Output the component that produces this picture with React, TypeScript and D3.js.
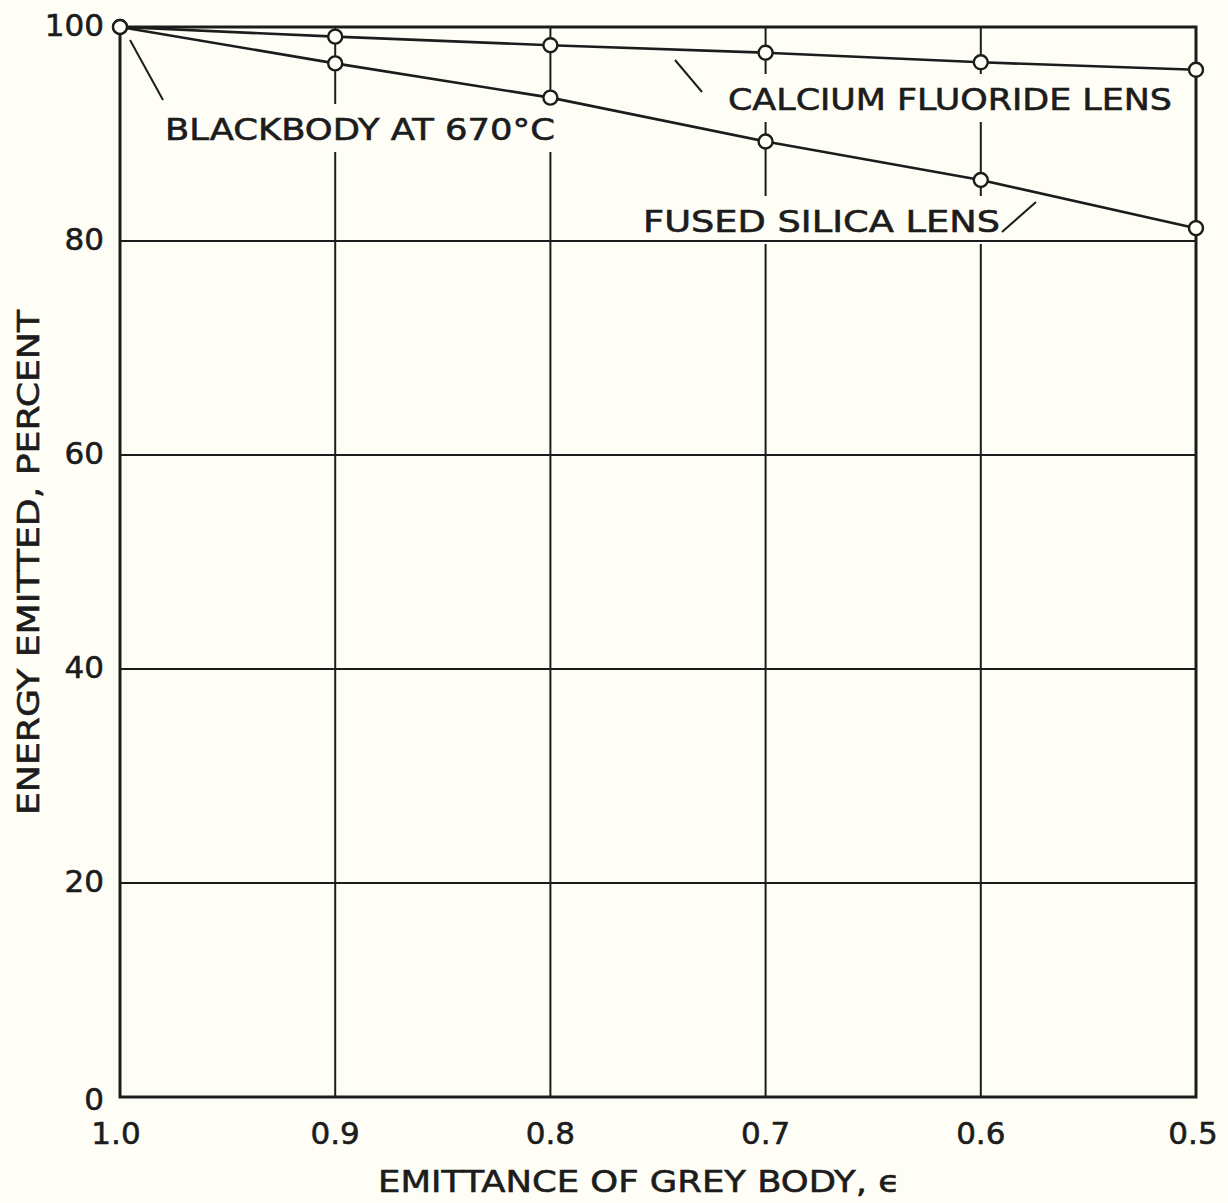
import React from 'react';
import * as d3 from 'd3';

// emittance values (x) and energy emitted in percent (y)
const emittance = [1.0, 0.9, 0.8, 0.7, 0.6, 0.5];
const calciumFluoride = [100, 99.1, 98.3, 97.6, 96.7, 96.0];
const fusedSilica = [100, 96.6, 93.4, 89.3, 85.7, 81.2];
const xTicks = ['1.0', '0.9', '0.8', '0.7', '0.6', '0.5'];
const yTicks = [0, 20, 40, 60, 80, 100];

const WIDTH = 1228;
const HEIGHT = 1203;
const BG = '#fefef7';
const INK = '#1c1c1c';
const FONT = '"DejaVu Sans", "Liberation Sans", sans-serif';

export default () => {
  const margin = { top: 27, right: 32, bottom: 106, left: 120 };
  const innerWidth = WIDTH - margin.left - margin.right;
  const innerHeight = HEIGHT - margin.top - margin.bottom;

  const xScale = d3.scaleLinear().domain([1.0, 0.5]).range([0, innerWidth]);
  const yScale = d3.scaleLinear().domain([0, 100]).range([innerHeight, 0]);

  const line = d3.line<number>()
    .x((d, i) => xScale(emittance[i]))
    .y((d) => yScale(d));

  const series = [calciumFluoride, fusedSilica];

  // hand lettered labels; the grid is broken behind them
  const labels = [
    { text: 'BLACKBODY AT 670°C', x: 165, y: 140, len: 390, lead: [130, 40, 163, 100] },
    { text: 'CALCIUM FLUORIDE LENS', x: 728, y: 110, len: 444, lead: [675, 60, 702, 92] },
    { text: 'FUSED SILICA LENS', x: 643, y: 232, len: 357, lead: [1002, 232, 1036, 202] },
  ];

  const textStyle = {
    fontFamily: FONT,
    fontSize: 30,
    fill: INK,
    stroke: INK,
    strokeWidth: 0.6,
  };

  return (
    <svg width={WIDTH} height={HEIGHT} style={{ display: 'block', position: 'absolute', left: 0, top: 0, background: BG }}>
      <rect width={WIDTH} height={HEIGHT} fill={BG} />
      <g transform={`translate(${margin.left}, ${margin.top})`}>
        {emittance.slice(1, -1).map((e) => (
          <line key={`v${e}`} x1={xScale(e)} x2={xScale(e)} y1={0} y2={innerHeight} stroke={INK} strokeWidth={2} />
        ))}
      </g>

      {labels.map((l) => (
        <rect key={`m${l.text}`} x={l.x - 4} y={l.y - 36} width={l.len + 8} height={48} fill={BG} />
      ))}

      <g transform={`translate(${margin.left}, ${margin.top})`}>
        {yTicks.slice(1, -1).map((t) => (
          <line key={`h${t}`} x1={0} x2={innerWidth} y1={yScale(t)} y2={yScale(t)} stroke={INK} strokeWidth={2} />
        ))}
        <rect x={0} y={0} width={innerWidth} height={innerHeight} fill="none" stroke={INK} strokeWidth={3} />
      </g>

      {labels.map((l) => (
        <g key={l.text}>
          <text x={l.x} y={l.y} textLength={l.len} lengthAdjust="spacingAndGlyphs" {...textStyle}>
            {l.text}
          </text>
          <line x1={l.lead[0]} y1={l.lead[1]} x2={l.lead[2]} y2={l.lead[3]} stroke={INK} strokeWidth={2} />
        </g>
      ))}

      <g transform={`translate(${margin.left}, ${margin.top})`}>
        {series.map((s, si) => (
          <g key={si}>
            <path d={line(s) ?? ''} fill="none" stroke={INK} strokeWidth={2.6} />
            {s.map((v, i) => (
              <circle key={i} cx={xScale(emittance[i])} cy={yScale(v)} r={7} fill={BG} stroke={INK} strokeWidth={2.4} />
            ))}
          </g>
        ))}

        {yTicks.map((t) => (
          <text
            key={`yt${t}`}
            x={-16}
            y={yScale(t) + (t === 0 ? 2 : -2)}
            dy="0.36em"
            textAnchor="end"
            {...textStyle}
            fontSize={31}
          >
            {t}
          </text>
        ))}
        {xTicks.map((t, i) => (
          <text
            key={`xt${t}`}
            x={xScale(emittance[i]) + (i === 0 ? -4 : i === xTicks.length - 1 ? -3 : 0)}
            y={innerHeight + 47}
            textAnchor="middle"
            {...textStyle}
            fontSize={31}
          >
            {t}
          </text>
        ))}
      </g>

      <text x={378} y={1192} textLength={522} lengthAdjust="spacingAndGlyphs" {...textStyle}>
        EMITTANCE OF GREY BODY, ϵ
      </text>
      <text
        transform="translate(39, 815) rotate(-90)"
        textLength={505}
        lengthAdjust="spacingAndGlyphs"
        {...textStyle}
      >
        ENERGY EMITTED, PERCENT
      </text>
    </svg>
  );
};
